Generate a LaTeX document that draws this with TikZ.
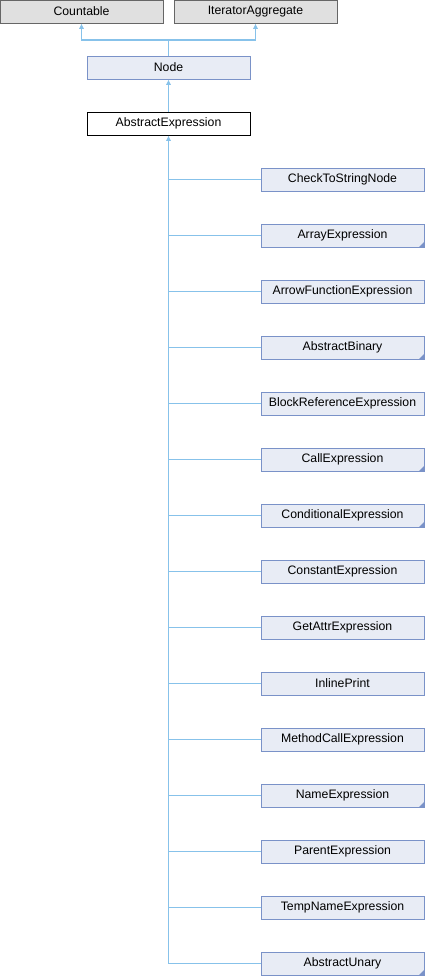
\documentclass[tikz,border=0pt]{standalone}
\usepackage{fontspec}
\setmainfont{Liberation Sans}
\usetikzlibrary{arrows.meta}
\definecolor{edgeblue}{HTML}{87C2EA}
\definecolor{clsfill}{HTML}{E8ECF5}
\definecolor{clsline}{HTML}{7A92C8}
\definecolor{extfill}{HTML}{E0E0E0}
\definecolor{extline}{HTML}{666666}
\tikzset{every node/.style={font=\fontsize{9.2}{11}\selectfont, inner sep=0pt, minimum width=122.25pt, minimum height=17.25pt, line width=0.75pt},
  extcls/.style={draw=extline, fill=extfill},
  cls/.style={draw=clsline, fill=clsfill},
  curcls/.style={draw=black, fill=white},
  edge/.style={draw=edgeblue, line width=0.8pt},
  inh/.style={edge, -{Latex[length=4pt,width=4pt]}}}

\begin{document}
\begin{tikzpicture}[x=0.75pt,y=-0.75pt]
   \useasboundingbox (0,0) rectangle (425,976);
   \node[extcls] (cnt) at ( 81.5,11.5) {Countable};
   \node[extcls] (iter) at (255.5,11.5) {IteratorAggregate};
   \node[cls] (node) at (168.5,67.5) {Node};
   \node[curcls] (absexpr) at (168.5,123.5) {AbstractExpression};
   \coordinate (split) at (node.north |- 0,40);
   \draw[edge] (node.north) -- (split);
   \draw[inh] (split) -| (cnt.south);
   \draw[inh] (split) -| (iter.south);
   \draw[inh] (absexpr) -- (node);
   \foreach \lbl/\mk [count=\i from 0] in {CheckToStringNode/0, ArrayExpression/1,
     ArrowFunctionExpression/0, AbstractBinary/1, BlockReferenceExpression/0,
     CallExpression/1, ConditionalExpression/1, ConstantExpression/0,
     GetAttrExpression/0, InlinePrint/0, MethodCallExpression/0, NameExpression/1,
     ParentExpression/0, TempNameExpression/0, AbstractUnary/1} {
      \node[cls] (e\i) at (342.5,179.5+56*\i) {\lbl};
      \draw[edge] (absexpr.south |- e\i.west) -- (e\i.west);
      \ifnum\mk=1
       \fill[clsline] (e\i.south east) -- ++(-6,0) -- ++(6,-6) -- cycle;
      \fi
   }
   \draw[inh] (absexpr.south |- e14.west) -- (absexpr.south);
\end{tikzpicture}
\end{document}
